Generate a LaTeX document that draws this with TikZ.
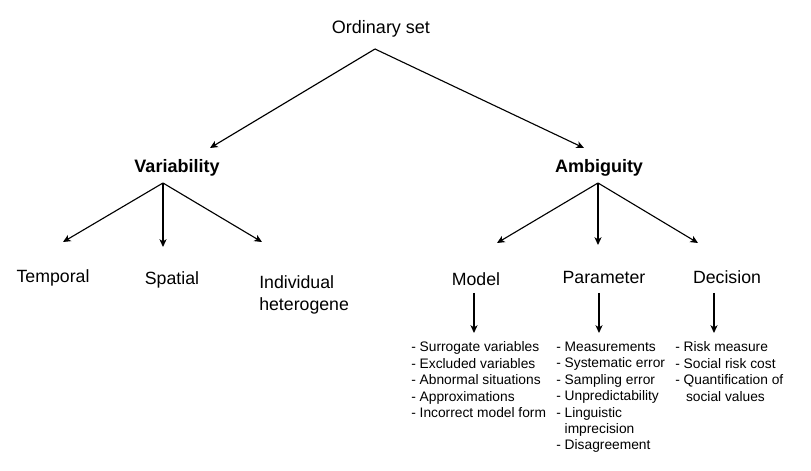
\documentclass[tikz,border=0pt]{standalone}
\usepackage{fontspec}
\setmainfont{Liberation Sans}
\usetikzlibrary{arrows.meta, positioning}
\tikzset{
  rootlabel/.style={font=\fontsize{12.8}{15}\selectfont, inner sep=0pt},
  catlabel/.style={font=\fontsize{12.8}{15}\selectfont\bfseries, inner sep=0pt},
  leaflabel/.style={font=\fontsize{12.6}{15.6}\selectfont, inner sep=0pt, align=left},
  itemlist/.style={font=\fontsize{9.8}{11.7}\selectfont, inner sep=0pt, align=left, anchor=north west},
  treearrow/.style={line width=0.8pt, -{Stealth[length=5.5pt, width=5pt, inset=1.5pt]}},
}

\begin{document}
\begin{tikzpicture}[x=0.025cm, y=-0.025cm]
  \useasboundingbox (0,0) rectangle (811,471);

  \node[rootlabel] (ordinary) at (381, 29) {Ordinary set};
  \node[catlabel] (variability) at (177, 168) {Variability};
  \node[catlabel] (ambiguity) at (599, 168) {Ambiguity};

  \node[leaflabel] (temporal) at (53, 278) {Temporal};
  \node[leaflabel] (spatial) at (172, 280) {Spatial};
  \node[leaflabel, anchor=north west] (individual) at (259, 275) {Individual\\heterogene};

  \node[leaflabel] (model) at (476, 279) {Model};
  \node[leaflabel] (parameter) at (604, 277) {Parameter};
  \node[leaflabel] (decision) at (727, 277) {Decision};

  \node[itemlist] (modellist) at (411, 341.5) {- Surrogate variables\\- Excluded variables\\- Abnormal situations\\- Approximations\\- Incorrect model form};
  \node[itemlist] (paramlist) at (556, 341.5) {- Measurements\\- Systematic error\\- Sampling error\\- Unpredictability\\- Linguistic\\\hphantom{- }imprecision\\- Disagreement};
  \node[itemlist] (decisionlist) at (675, 341.5) {- Risk measure\\- Social risk cost\\- Quantification of\\\hphantom{- }\,social values};

  % arrow ends
  \coordinate (ordinaryroot) at (375, 49);
  \coordinate (variabilitytip) at (210, 148);
  \coordinate (ambiguitytip) at (584, 148);
  \coordinate (variabilityroot) at (163, 183);
  \coordinate (temporaltip) at (63, 242);
  \coordinate (spatialtip) at (163, 247);
  \coordinate (individualtip) at (262, 242);
  \coordinate (ambiguityroot) at (598, 183);
  \coordinate (modeltip) at (497, 243);
  \coordinate (parametertip) at (598, 245);
  \coordinate (decisiontip) at (698, 243);
  \coordinate (modelstem) at (474, 293);
  \coordinate (modellisttip) at (474, 333);
  \coordinate (paramstem) at (599, 293);
  \coordinate (paramlisttip) at (599, 333);
  \coordinate (decisionstem) at (714, 293);
  \coordinate (decisionlisttip) at (714, 333);

  \draw[treearrow] (ordinaryroot) -- (variabilitytip);
  \draw[treearrow] (ordinaryroot) -- (ambiguitytip);

  \draw[treearrow] (variabilityroot) -- (temporaltip);
  \draw[treearrow] (variabilityroot) -- (spatialtip);
  \draw[treearrow] (variabilityroot) -- (individualtip);

  \draw[treearrow] (ambiguityroot) -- (modeltip);
  \draw[treearrow] (ambiguityroot) -- (parametertip);
  \draw[treearrow] (ambiguityroot) -- (decisiontip);

  \draw[treearrow] (modelstem) -- (modellisttip);
  \draw[treearrow] (paramstem) -- (paramlisttip);
  \draw[treearrow] (decisionstem) -- (decisionlisttip);
\end{tikzpicture}
\end{document}
